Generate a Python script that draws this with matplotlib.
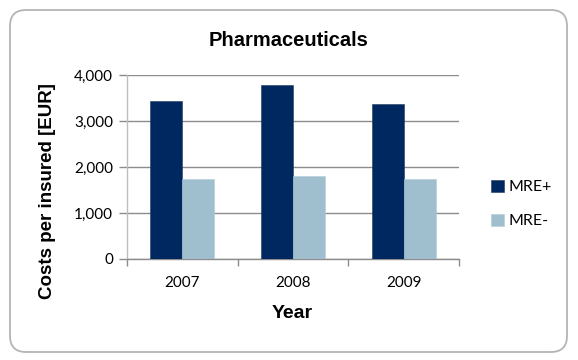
import matplotlib
matplotlib.use("Agg")
import matplotlib.pyplot as plt
from matplotlib.patches import FancyBboxPatch
from matplotlib.transforms import IdentityTransform
import numpy as np

years = ["2007", "2008", "2009"]
mre_plus = [3430, 3790, 3370]
mre_minus = [1740, 1800, 1740]
series_names = ["MRE+", "MRE-"]
yticks = [0, 1000, 2000, 3000, 4000]

dark = "#002860"
light = "#9FBFCF"
grid_c = "#8C8C8C"
head_font = "Liberation Sans"

fig = plt.figure(figsize=(5.78, 3.6), dpi=100)
fig.patch.set_facecolor("white")

border = FancyBboxPatch((10, 8), 557, 342, boxstyle="round,pad=0,rounding_size=16",
                        transform=IdentityTransform(), facecolor="none",
                        edgecolor="#B4B4B4", linewidth=1.3, zorder=-5)
fig.patches.append(border)

ax = fig.add_axes([127/578, 101/360, 332/578, 184/360])
ax.set_facecolor("none")
x = np.arange(len(years))
w = 0.29
ax.bar(x - w/2, mre_plus, width=w, color=dark, label=series_names[0], zorder=3,
       edgecolor="#203860", linewidth=0.4)
ax.bar(x + w/2, mre_minus, width=w, color=light, label=series_names[1], zorder=3,
       edgecolor="#B0CCD8", linewidth=0.4)

ax.set_xlim(-0.5, 2.5)
ax.set_ylim(0, 4000)
ax.set_yticks(yticks)
ax.set_yticklabels([f"{v:,}" for v in yticks], fontsize=11, family="Lato")
ax.yaxis.grid(True, color=grid_c, linewidth=1.0, zorder=1)
ax.set_axisbelow(True)
ax.tick_params(axis="y", length=6, color=grid_c, width=1.0, pad=4)

ax.set_xticks(x)
ax.set_xticklabels(years, fontsize=11, family="Lato")
ax.set_xticks([-0.5, 0.5, 1.5, 2.5], minor=True)
ax.tick_params(axis="x", which="major", length=0, pad=12)
ax.tick_params(axis="x", which="minor", length=5, color=grid_c, width=1.0)

for s in ["top", "right"]:
    ax.spines[s].set_visible(False)
ax.spines["left"].set_color("#BEBEBE")
ax.spines["bottom"].set_color(grid_c)
ax.spines["left"].set_linewidth(1.0)
ax.spines["bottom"].set_linewidth(1.0)

fig.text(289/578, 1 - 40/360, "Pharmaceuticals", ha="center", va="center",
         fontsize=14.5, fontweight="bold", family=head_font)
fig.text(292/578, 1 - 314/360, "Year", ha="center", va="center",
         fontsize=14, fontweight="bold", family=head_font)
fig.text(48/578, 1 - 191/360, "Costs per insured [EUR]", ha="center", va="center",
         rotation=90, fontsize=13.5, fontweight="bold", family=head_font)

leg = ax.legend(loc="center left", bbox_to_anchor=(485/578, 1 - 204/360),
                bbox_transform=fig.transFigure, frameon=False,
                prop={"family": "Lato", "size": 11.5}, handlelength=0.8,
                handleheight=0.8, handletextpad=0.3, labelspacing=1.2,
                borderaxespad=0)

fig.savefig("out.png", dpi=100, facecolor="white")
